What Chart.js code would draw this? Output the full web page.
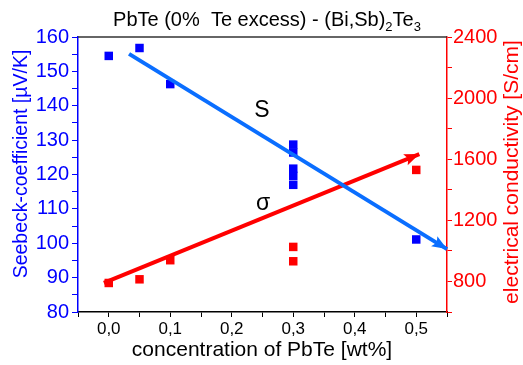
<!DOCTYPE html>
<html lang="en">
<head>
  <meta charset="UTF-8" />
  <title>PbTe - (Bi,Sb)2Te3</title>
  <script src="https://cdn.jsdelivr.net/npm/chart.js"></script>
  <style>
    html, body { margin: 0; padding: 0; background: #fff; }
  </style>
</head>
<body>
  <canvas id="myChart" width="523" height="365"></canvas>

  <script>
    // Seebeck coefficient (left axis, µV/K)
    const seebeckX = [0, 0.05, 0.1, 0.3, 0.3, 0.3, 0.3, 0.3, 0.5];
    const seebeckY = [154.5, 156.8, 146.3, 128.7, 126.4, 121.7, 119.6, 117.0, 101.1];

    // electrical conductivity (right axis, S/cm)
    const sigmaX = [0, 0.05, 0.1, 0.3, 0.3, 0.5];
    const sigmaY = [790, 814, 939, 1026, 932, 1530];

    // hand drawn trend arrows (start, tip)
    const seebeckTrendX = [0.033, 0.55];
    const seebeckTrendY = [155.1, 98.3];
    const sigmaTrendX = [-0.008, 0.505];
    const sigmaTrendY = [790, 1634];

    // curve labels, placed in left-axis units
    const curveLabels = ['S', 'σ'];
    const curveLabelX = [0.249, 0.251];
    const curveLabelY = [136.8, 109.6];

    const FONT = 'Arial, "Liberation Sans", sans-serif';
    const BLUE = '#0000ff';
    const LINE_BLUE = '#0a6eff';
    const RED = '#ff0000';

    const zip = (xs, ys) => xs.map((x, i) => ({ x: x, y: ys[i] }));
    const isMultiple = (v, step) => Math.abs(v / step - Math.round(v / step)) < 1e-6;

    // title, axis titles, arrowheads, labels and the top frame line
    const decorations = {
      id: 'decorations',
      afterDatasetsDraw(chart) {
        const ctx = chart.ctx;
        chart.data.datasets.forEach((ds, i) => {
          if (!ds.arrow) return;
          const pts = chart.getDatasetMeta(i).data;
          const a = pts[pts.length - 2], b = pts[pts.length - 1];
          const ang = Math.atan2(b.y - a.y, b.x - a.x);
          const len = 15, half = 6;
          ctx.save();
          ctx.translate(b.x, b.y);
          ctx.rotate(ang);
          ctx.fillStyle = ds.borderColor;
          ctx.beginPath();
          ctx.moveTo(0, 0);
          ctx.lineTo(-len, -half);
          ctx.lineTo(-len * 0.8, 0);
          ctx.lineTo(-len, half);
          ctx.closePath();
          ctx.fill();
          ctx.restore();
        });
      },
      afterDraw(chart) {
        const ctx = chart.ctx;
        const area = chart.chartArea;
        const sx = chart.scales.x, sy = chart.scales.y;

        // top frame
        ctx.save();
        ctx.strokeStyle = '#333';
        ctx.lineWidth = 1.5;
        ctx.beginPath();
        ctx.moveTo(area.left, area.top);
        ctx.lineTo(area.right, area.top);
        ctx.stroke();

        // curve labels
        ctx.fillStyle = '#000';
        ctx.font = '23px ' + FONT;
        ctx.textAlign = 'center';
        ctx.textBaseline = 'alphabetic';
        curveLabels.forEach((t, i) => {
          ctx.fillText(t, sx.getPixelForValue(curveLabelX[i]), sy.getPixelForValue(curveLabelY[i]));
        });

        // chart title with subscripts
        const parts = [['PbTe (0%  Te excess) - (Bi,Sb)', 0], ['2', 1], ['Te', 0], ['3', 1]];
        const big = '20px ' + FONT, small = '13px ' + FONT;
        let total = 0;
        parts.forEach(p => { ctx.font = p[1] ? small : big; total += ctx.measureText(p[0]).width; });
        let x = 267 - total / 2;
        ctx.textAlign = 'left';
        parts.forEach(p => {
          ctx.font = p[1] ? small : big;
          ctx.fillText(p[0], x, p[1] ? 31 : 26);
          x += ctx.measureText(p[0]).width;
        });

        // x axis title
        ctx.textAlign = 'center';
        ctx.font = '21px ' + FONT;
        ctx.fillText('concentration of PbTe [wt%]', 262, 356);

        // y axis titles
        ctx.textBaseline = 'middle';
        ctx.save();
        ctx.translate(22, 164);
        ctx.rotate(-Math.PI / 2);
        ctx.fillStyle = BLUE;
        ctx.font = '19.5px ' + FONT;
        ctx.fillText('Seebeck-coefficient [µV/K]', 0, 0);
        ctx.restore();

        ctx.save();
        ctx.translate(512, 172);
        ctx.rotate(-Math.PI / 2);
        ctx.fillStyle = RED;
        ctx.font = '21px ' + FONT;
        ctx.fillText('electrical conductivity [S/cm]', 0, 0);
        ctx.restore();
        ctx.restore();
      }
    };

    const ctx = document.getElementById('myChart').getContext('2d');

    new Chart(ctx, {
      type: 'scatter',
      data: {
        datasets: [
          {
            label: 'S trend',
            data: zip(seebeckTrendX, seebeckTrendY),
            yAxisID: 'y',
            showLine: true,
            pointRadius: 0,
            borderColor: LINE_BLUE,
            borderWidth: 4,
            clip: false,
            arrow: true,
            order: 0
          },
          {
            label: 'sigma trend',
            data: zip(sigmaTrendX, sigmaTrendY),
            yAxisID: 'y2',
            showLine: true,
            pointRadius: 0,
            borderColor: RED,
            borderWidth: 4,
            clip: false,
            arrow: true,
            order: 0
          },
          {
            label: 'Seebeck',
            data: zip(seebeckX, seebeckY),
            yAxisID: 'y',
            pointStyle: 'rect',
            pointRadius: 6,
            borderWidth: 0,
            backgroundColor: BLUE,
            order: 1
          },
          {
            label: 'conductivity',
            data: zip(sigmaX, sigmaY),
            yAxisID: 'y2',
            pointStyle: 'rect',
            pointRadius: 6,
            borderWidth: 0,
            backgroundColor: RED,
            order: 1
          }
        ]
      },
      options: {
        responsive: false,
        animation: false,
        layout: { padding: { top: 37, left: 0, right: 0, bottom: 0 } },
        plugins: {
          legend: { display: false },
          tooltip: { enabled: false }
        },
        scales: {
          x: {
            type: 'linear',
            position: 'bottom',
            min: -0.05,
            max: 0.55,
            afterFit: s => { s.height = 53; },
            border: { color: '#000', width: 1.5 },
            grid: { drawOnChartArea: false, color: '#000', tickLength: 5 },
            ticks: {
              stepSize: 0.05,
              autoSkip: false,
              maxRotation: 0,
              padding: 2,
              color: '#000',
              font: { family: FONT, size: 17 },
              callback: v => isMultiple(v, 0.1) ? (Math.round(v * 10) / 10).toFixed(1).replace('.', ',') : ''
            }
          },
          y: {
            type: 'linear',
            position: 'left',
            min: 80,
            max: 160,
            afterFit: s => { s.width = 78; },
            border: { color: BLUE, width: 1.5 },
            grid: { drawOnChartArea: false, color: BLUE, tickLength: 6 },
            ticks: {
              stepSize: 5,
              autoSkip: false,
              padding: 3,
              color: BLUE,
              font: { family: FONT, size: 20 },
              callback: v => isMultiple(v, 10) ? v : ''
            }
          },
          y2: {
            type: 'linear',
            position: 'right',
            min: 600,
            max: 2400,
            afterFit: s => { s.width = 76; },
            border: { color: RED, width: 1.5 },
            grid: { drawOnChartArea: false, color: RED, tickLength: 5 },
            ticks: {
              stepSize: 200,
              autoSkip: false,
              padding: 1,
              color: RED,
              font: { family: FONT, size: 20 },
              callback: v => isMultiple(v, 400) ? v : ''
            }
          }
        }
      },
      plugins: [decorations]
    });
  </script>
</body>
</html>
